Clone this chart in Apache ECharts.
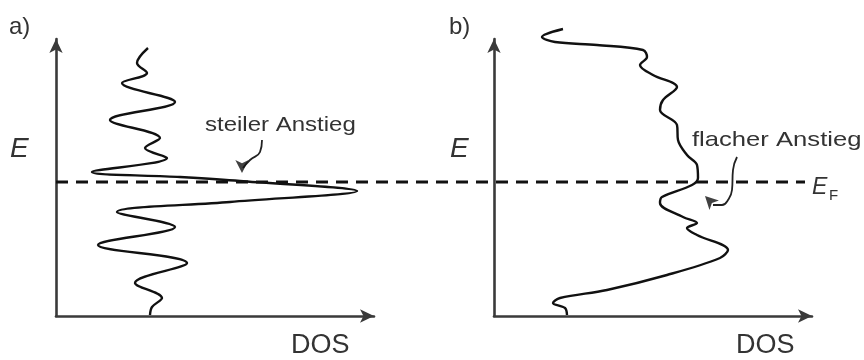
<!DOCTYPE html>
<html>
<head>
<meta charset="utf-8">
<script src="https://cdn.jsdelivr.net/npm/echarts@6/dist/echarts.min.js"></script>
<style>html,body{margin:0;padding:0;background:#fff}#c{width:864px;height:360px}</style>
</head>
<body>
<div id="c"></div>
<script>
// Fermi level (energy, arbitrary units)
const EF = 134;
// Panel a) — DOS with steep rise at E_F (energy ascending)
const energyA = [1, 9, 18, 33, 53, 71, 89, 104, 114, 125, 135, 139, 144, 158, 168, 178, 196, 214, 233, 243, 253, 268];
const dosA    = [94, 96, 106, 79, 131, 42, 119, 61, 174, 301, 184, 124, 36, 111, 89, 104, 54, 119, 66, 91, 81, 92];
// Panel b) — DOS with flat rise at E_F
const energyB = [1, 8, 13, 18, 26, 41, 58, 66, 81, 88, 93, 99, 113, 119, 131, 138, 151, 161, 176, 191, 206, 216, 229, 241, 251, 259, 266, 271, 274, 279, 287];
const dosB    = [73, 71, 59, 66, 113, 173, 226, 234, 203, 193, 203, 189, 166, 168, 198, 204, 203, 193, 184, 183, 166, 169, 183, 159, 146, 153, 149, 103, 61, 48, 69];
// Annotation arrows (DOS, E)
const noteADos = [206, 204, 194, 187];
const noteAE   = [176, 164, 156, 148];
const noteAHead = [186, 143];
const noteBDos = [243, 239, 238, 234, 228, 219];
const noteBE   = [159, 146, 126, 116, 111, 111];
const noteBHead = [211, 120];
// Texts
const labelA = 'a)', labelB = 'b)';
const yName = 'E', xName = 'DOS';
const noteAText = 'steiler Anstieg', noteBText = 'flacher Anstieg';

const EMAX = 277, DOSMAX = 318;
const zip = (xs, ys) => xs.map((x, i) => [x, ys[i]]);
const FONT = '"Liberation Sans", Arial, sans-serif';
const axisCol = '#3a3a3a';

function axes(gi) {
  const line = {show: true, symbol: ['none', 'arrow'], symbolSize: [10, 14], lineStyle: {color: axisCol, width: 2.6}};
  return {
    x: {gridIndex: gi, type: 'value', min: 0, max: DOSMAX, axisLine: line, axisTick: {show: false}, axisLabel: {show: false}, splitLine: {show: false}},
    y: {gridIndex: gi, type: 'value', min: 0, max: EMAX, axisLine: line, axisTick: {show: false}, axisLabel: {show: false}, splitLine: {show: false}}
  };
}
const a0 = axes(0), a1 = axes(1);
const curveStyle = {color: '#111', width: 2.4};

const chart = echarts.init(document.getElementById('c'), null, {renderer: 'canvas'});
chart.setOption({
  animation: false,
  backgroundColor: '#fff',
  grid: [
    {left: 56, top: 39, width: DOSMAX, height: EMAX},
    {left: 494, top: 39, width: DOSMAX, height: EMAX},
    {left: 56, top: 39, width: 749, height: EMAX}
  ],
  xAxis: [a0.x, a1.x, {gridIndex: 2, type: 'value', min: 0, max: 1, show: false}],
  yAxis: [a0.y, a1.y, {gridIndex: 2, type: 'value', min: 0, max: EMAX, show: false}],
  series: [
    {type: 'line', xAxisIndex: 2, yAxisIndex: 2, data: [[0, EF], [1, EF]], showSymbol: false, symbol: 'none',
     lineStyle: {color: '#111', width: 3, type: [12, 8]}, z: 3},
    {type: 'line', xAxisIndex: 0, yAxisIndex: 0, data: zip(dosA, energyA), smooth: 0.35, symbol: 'none', clip: false, lineStyle: curveStyle, z: 4},
    {type: 'line', xAxisIndex: 1, yAxisIndex: 1, data: zip(dosB, energyB), smooth: 0.35, symbol: 'none', clip: false, lineStyle: curveStyle, z: 4},
    {type: 'line', xAxisIndex: 0, yAxisIndex: 0, data: zip(noteADos, noteAE), smooth: 0.5, symbol: 'none', clip: false, lineStyle: {color: '#222', width: 1.8}, z: 5},
    {type: 'scatter', xAxisIndex: 0, yAxisIndex: 0, data: [noteAHead], symbol: 'arrow', symbolSize: [10, 13], symbolRotate: 180, itemStyle: {color: '#111'}, clip: false, z: 5},
    {type: 'line', xAxisIndex: 1, yAxisIndex: 1, data: zip(noteBDos, noteBE), smooth: 0.5, symbol: 'none', clip: false, lineStyle: {color: '#222', width: 1.8}, z: 5},
    {type: 'scatter', xAxisIndex: 1, yAxisIndex: 1, data: [noteBHead], symbol: 'arrow', symbolSize: [10, 13], symbolRotate: 45, itemStyle: {color: '#111'}, clip: false, z: 5}
  ],
  graphic: [
    {type: 'text', x: 9, y: 27, style: {text: labelA, font: '24px ' + FONT, fill: '#333', verticalAlign: 'middle'}},
    {type: 'text', x: 449, y: 27, style: {text: labelB, font: '24px ' + FONT, fill: '#333', verticalAlign: 'middle'}},
    {type: 'text', x: 10, y: 149, style: {text: yName, font: 'italic 28px ' + FONT, fill: '#333', verticalAlign: 'middle'}},
    {type: 'text', x: 450, y: 149, style: {text: yName, font: 'italic 28px ' + FONT, fill: '#333', verticalAlign: 'middle'}},
    {type: 'text', x: 291, y: 346, style: {text: xName, font: '27px ' + FONT, fill: '#333', verticalAlign: 'middle'}},
    {type: 'text', x: 736, y: 346, style: {text: xName, font: '27px ' + FONT, fill: '#333', verticalAlign: 'middle'}},
    {type: 'text', x: 205, y: 125, scaleX: 1.2, style: {text: noteAText, font: '20px ' + FONT, fill: '#333', verticalAlign: 'middle'}},
    {type: 'text', x: 692, y: 140, scaleX: 1.22, style: {text: noteBText, font: '21px ' + FONT, fill: '#333', verticalAlign: 'middle'}},
    {type: 'text', x: 812, y: 188, style: {text: 'E', font: 'italic 23px ' + FONT, fill: '#333', verticalAlign: 'middle'}},
    {type: 'text', x: 829, y: 196, style: {text: 'F', font: '15px ' + FONT, fill: '#333', verticalAlign: 'middle'}}
  ]
});
</script>
</body>
</html>
